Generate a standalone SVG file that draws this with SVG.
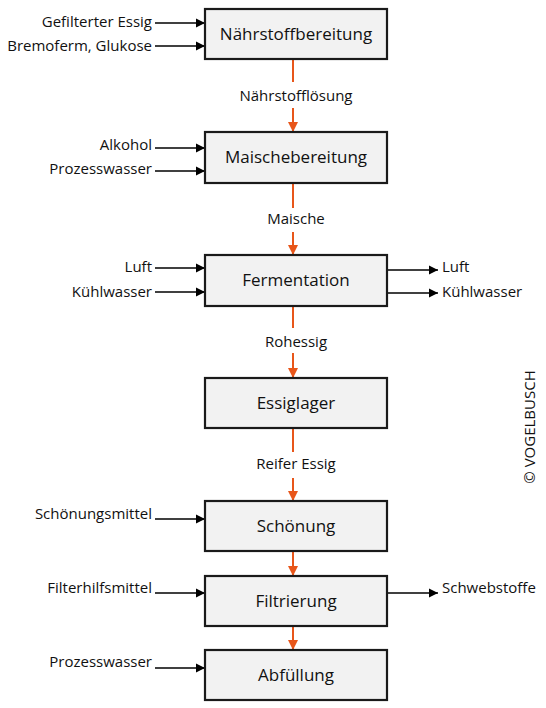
<svg xmlns="http://www.w3.org/2000/svg" width="546" height="708" viewBox="0 0 546 708">
<defs>
<marker id="ab" markerWidth="10" markerHeight="10" refX="9" refY="5" orient="auto" markerUnits="userSpaceOnUse"><path d="M0,0.5 L9,5 L0,9.5 Z" fill="#000"/></marker>
<marker id="ao" markerWidth="12" markerHeight="12" refX="10" refY="5" orient="auto" markerUnits="userSpaceOnUse"><path d="M0,0 L10,5 L0,10 Z" fill="#e8561a"/></marker>
</defs>
<style>
.box{fill:#f2f2f2;stroke:#1a1a1a;stroke-width:2.2}
.bt{font-family:"Open Sans","Liberation Sans",sans-serif;font-size:17px;fill:#111;text-anchor:middle;dominant-baseline:central}
.lt{font-family:"Open Sans","Liberation Sans",sans-serif;font-size:15px;fill:#111;dominant-baseline:central}
.r{text-anchor:end}
.c{text-anchor:middle}
.bl{stroke:#000;stroke-width:1.3;fill:none;marker-end:url(#ab)}
.or{stroke:#e8561a;stroke-width:2;fill:none}
.oa{stroke:#e8561a;stroke-width:2;fill:none;marker-end:url(#ao)}
</style>
<rect width="546" height="708" fill="#fff"/>
<g id="connectors">
<line class="bl" x1="155" y1="23" x2="205" y2="23"/>
<line class="bl" x1="155" y1="46" x2="205" y2="46"/>
<line class="or" x1="293" y1="59" x2="293" y2="82"/>
<line class="oa" x1="293" y1="108" x2="293" y2="132"/>
<line class="bl" x1="155" y1="148" x2="205" y2="148"/>
<line class="bl" x1="155" y1="171" x2="205" y2="171"/>
<line class="or" x1="293" y1="183" x2="293" y2="208"/>
<line class="oa" x1="293" y1="232" x2="293" y2="255"/>
<line class="bl" x1="155" y1="268" x2="205" y2="268"/>
<line class="bl" x1="155" y1="292" x2="205" y2="292"/>
<line class="bl" x1="387" y1="270" x2="438" y2="270"/>
<line class="bl" x1="387" y1="293" x2="438" y2="293"/>
<line class="or" x1="293" y1="306" x2="293" y2="328"/>
<line class="oa" x1="293" y1="353" x2="293" y2="378"/>
<line class="or" x1="293" y1="428" x2="293" y2="452"/>
<line class="oa" x1="293" y1="478" x2="293" y2="501"/>
<line class="bl" x1="155" y1="519" x2="205" y2="519"/>
<line class="oa" x1="293" y1="551" x2="293" y2="576"/>
<line class="bl" x1="155" y1="593" x2="205" y2="593"/>
<line class="bl" x1="387" y1="593" x2="438" y2="593"/>
<line class="oa" x1="293" y1="626" x2="293" y2="650"/>
<line class="bl" x1="155" y1="668" x2="205" y2="668"/>
</g>
<g id="n1"><rect class="box" x="205" y="9" width="182" height="50"/><text class="bt" x="296" y="33">Nährstoffbereitung</text></g>
<g id="n2"><rect class="box" x="205" y="132" width="182" height="51"/><text class="bt" x="296" y="156">Maischebereitung</text></g>
<g id="n3"><rect class="box" x="205" y="255" width="182" height="51"/><text class="bt" x="296" y="279">Fermentation</text></g>
<g id="n4"><rect class="box" x="205" y="378" width="182" height="50"/><text class="bt" x="296" y="402">Essiglager</text></g>
<g id="n5"><rect class="box" x="205" y="501" width="182" height="50"/><text class="bt" x="296" y="525">Schönung</text></g>
<g id="n6"><rect class="box" x="205" y="576" width="182" height="50"/><text class="bt" x="296" y="600">Filtrierung</text></g>
<g id="n7"><rect class="box" x="205" y="650" width="182" height="50"/><text class="bt" x="296" y="674">Abfüllung</text></g>
<g id="labels">
<text class="lt r" x="152" y="21">Gefilterter Essig</text>
<text class="lt r" x="152" y="45">Bremoferm, Glukose</text>
<text class="lt c" x="296" y="95">Nährstofflösung</text>
<text class="lt r" x="152" y="144">Alkohol</text>
<text class="lt r" x="152" y="168">Prozesswasser</text>
<text class="lt c" x="296" y="218">Maische</text>
<text class="lt r" x="152" y="266">Luft</text>
<text class="lt r" x="152" y="291">Kühlwasser</text>
<text class="lt" x="442" y="266">Luft</text>
<text class="lt" x="442" y="291">Kühlwasser</text>
<text class="lt c" x="296" y="341">Rohessig</text>
<text class="lt c" x="296" y="463">Reifer Essig</text>
<text class="lt r" x="152" y="513">Schönungsmittel</text>
<text class="lt r" x="152" y="587">Filterhilfsmittel</text>
<text class="lt" x="442" y="587">Schwebstoffe</text>
<text class="lt r" x="152" y="661">Prozesswasser</text>
<text class="lt c" transform="translate(529,427) rotate(-90)" style="font-size:15px">© VOGELBUSCH</text>
</g>
</svg>
